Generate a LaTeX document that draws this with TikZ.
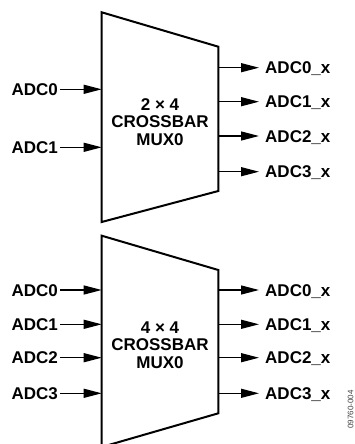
\documentclass[tikz,border=0pt]{standalone}
\usepackage{fontspec}
\setmainfont{Liberation Sans}
\usetikzlibrary{arrows.meta}
\tikzset{
  sig/.style={line width=1.3pt,-{Triangle[length=18pt,width=9pt]}},
  muxbody/.style={line width=2pt,line join=miter},
  pinlabel/.style={font=\fontsize{17}{17.5}\selectfont\bfseries,inner ysep=0pt,text height=12.2pt,text depth=0pt},
  muxlabel/.style={font=\fontsize{17}{17.5}\selectfont\bfseries,align=center,inner sep=0pt},
}
\begin{document}
\begin{tikzpicture}[x=1pt,y=-1pt]
  \useasboundingbox (0,0) rectangle (355,444);
  \pgfmathsetmacro{\LeftX}{101.7};
  \pgfmathsetmacro{\RightX}{218.3};
  % upper crossbar, 2 x 4
  \draw[muxbody] (\LeftX,12.3) coordinate (A1) -- (\RightX,46.7) coordinate (A2) -- (\RightX,191) coordinate (A3) -- (\LeftX,222) coordinate (A4) -- cycle;
  \node[muxlabel] (muxA) at (160,121.7) {2 × 4\\CROSSBAR\\MUX0};
  \foreach \i/\y in {0/89.3,1/147.3} {
    \node[pinlabel,anchor=east,inner xsep=2pt] (inA\i) at (60,\y) {ADC\i};
    \coordinate (pinA\i) at (\LeftX,\y);
    \draw[sig] (inA\i.east) -- (pinA\i);
  }
  \foreach \i/\y in {0/67.7,1/101.7,2/136,3/171.7} {
    \node[pinlabel,anchor=west,inner xsep=6pt] (outA\i) at (259,\y) {ADC\i\_x};
    \coordinate (poutA\i) at (\RightX,\y);
    \draw[sig] (poutA\i) -- (outA\i.west);
  }
  % lower crossbar, 4 x 4
  \draw[muxbody] (\LeftX,235.7) coordinate (B1) -- (\RightX,270) coordinate (B2) -- (\RightX,413.3) coordinate (B3) -- (\LeftX,447) coordinate (B4) -- cycle;
  \node[muxlabel] (muxB) at (160,345) {4 × 4\\CROSSBAR\\MUX0};
  \foreach \i/\y in {0/290,1/324.3,2/357.7,3/393.3} {
    \node[pinlabel,anchor=east,inner xsep=2pt] (inB\i) at (60,\y) {ADC\i};
    \coordinate (pinB\i) at (\LeftX,\y);
    \draw[sig] (inB\i.east) -- (pinB\i);
    \node[pinlabel,anchor=west,inner xsep=6pt] (outB\i) at (259,\y) {ADC\i\_x};
    \coordinate (poutB\i) at (\RightX,\y);
    \draw[sig] (poutB\i) -- (outB\i.west);
  }
  % figure number
  \node[rotate=90,anchor=east,inner sep=0pt,font=\fontsize{8}{8}\selectfont,text=black!75] (figno) at (350.5,390) {09760-004};
\end{tikzpicture}
\end{document}
